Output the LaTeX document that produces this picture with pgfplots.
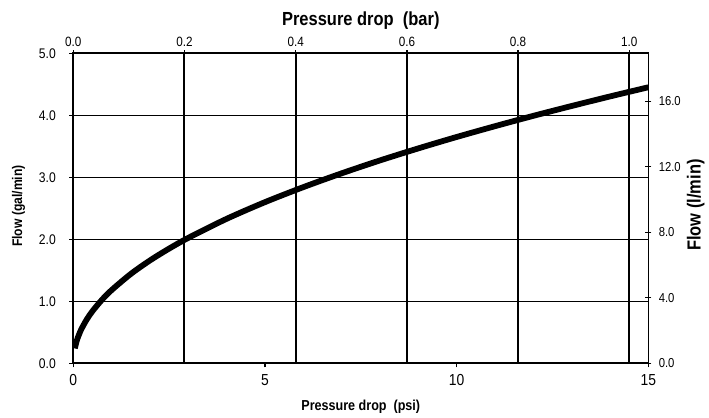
\documentclass[border=0pt]{standalone}
\usepackage{fontspec}
\setmainfont{Liberation Sans}[FakeStretch=0.87]
\usepackage{pgfplots}
\pgfplotsset{compat=1.18}
\pgfplotsset{
  common/.style={
    scale only axis, width=575bp, height=310bp,
    /pgf/number format/assume math mode=true,
    axis line style={line width=1.6bp, black},
    every tick/.style={black, line width=1.3bp},
  },
  onedec/.style={/pgf/number format/fixed, /pgf/number format/fixed zerofill, /pgf/number format/precision=1},
}
\begin{document}
\begin{tikzpicture}
% top axis: bar
\begin{axis}[common,
  xmin=0, xmax=1.034214, ymin=0, ymax=5,
  axis x line*=top, axis y line=none,
  xtick={0,0.2,0.4,0.6,0.8,1.0},
  xticklabel style={onedec, font=\fontsize{13.5}{14}\selectfont},
  xmajorgrids, grid style={line width=2bp, black},
  tick align=outside, major tick length=3bp,
  xlabel={Pressure drop\ \ (bar)},
  xlabel style={at={(rel axis cs:0.5,1)}, anchor=base, yshift=27.3bp,
    font=\fontsize{19}{20}\selectfont\bfseries},
]
\end{axis}
% right axis: l/min
\begin{axis}[common,
  xmin=0, xmax=15, ymin=0, ymax=18.92705,
  axis y line*=right, axis x line=none,
  ytick={0,4,8,12,16},
  yticklabel style={onedec, font=\fontsize{13}{14}\selectfont, xshift=4bp},
  tick align=center, major tick length=6bp,
  ylabel={Flow (l/min)},
  ylabel style={at={(rel axis cs:1.091,0.51)}, anchor=base,
    font=\fontsize{19}{20}\selectfont\bfseries},
]
\end{axis}
% main axis: psi vs gal/min
\begin{axis}[common, name=main,
  xmin=0, xmax=15, ymin=0, ymax=5,
  xtick={0,5,10,15}, ytick={0,1,2,3,4,5},
  xtick pos=bottom, ytick pos=left,
  tick align=outside, major tick length=4bp,
  ymajorgrids, grid style={line width=1.4bp, black},
  xticklabel style={font=\fontsize{16}{17}\selectfont, yshift=-4bp},
  yticklabel style={onedec, font=\fontsize{14}{15}\selectfont, xshift=-10bp},
  xlabel={Pressure drop\ \ (psi)},
  xlabel style={at={(rel axis cs:0.5,0)}, anchor=base, yshift=-47.4bp,
    font=\fontsize{14.5}{15}\selectfont\bfseries},
  ylabel={Flow (gal/min)},
  ylabel style={at={(rel axis cs:-0.0892,0.507)}, anchor=base,
    font=\fontsize{14}{15}\selectfont\bfseries},
]
\addplot[black, line width=5.8bp, smooth] coordinates {
 (0.04,0.24) (0.1,0.382) (0.2,0.537) (0.35,0.706) (0.5,0.841) (0.75,1.026)
 (1.0,1.181) (1.5,1.441) (2.0,1.659) (2.5,1.850) (3.0,2.023) (4.0,2.330)
 (5.0,2.599) (6.0,2.841) (7.0,3.064) (8.0,3.272) (9.0,3.466) (10.0,3.650)
 (11.0,3.824) (12.0,3.991) (13.0,4.150) (14.0,4.304) (15.0,4.452)
};
\end{axis}
\path ([xshift=-73.3bp,yshift=-50.7bp]main.south west) rectangle ([xshift=60.7bp,yshift=53.3bp]main.north east);
\end{tikzpicture}
\end{document}
